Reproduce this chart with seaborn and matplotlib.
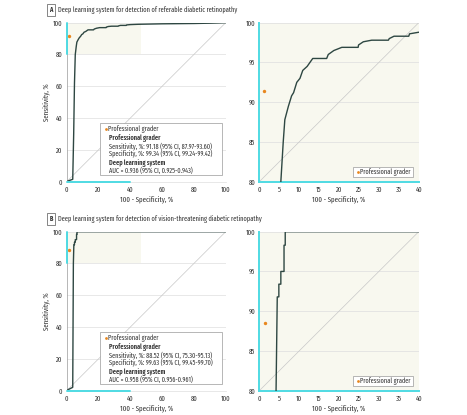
import matplotlib
matplotlib.use("Agg")
import matplotlib.pyplot as plt
import seaborn as sns
import pandas as pd
from matplotlib.patches import Rectangle

# ROC curve for referable DR (100 - specificity, sensitivity)
ref_fpr = [0, 1, 3.8, 4.4, 4.9, 5.4, 6.0, 6.4, 7.3, 8.1, 8.6, 9.4, 10.2, 10.9, 12.0,
           13.4, 16.9, 17.3, 18.7, 20.7, 24.8, 24.9, 26.1, 28.2, 32.4, 32.6, 33.8,
           37.5, 37.7, 40, 45, 50, 60, 70, 80, 90, 100]
ref_tpr = [0, 0.5, 1.5, 30, 62, 80, 85, 87.8, 89.5, 90.8, 91.2, 92.5, 93.0, 94.0, 94.5,
           95.5, 95.5, 96.0, 96.5, 96.9, 96.9, 97.2, 97.6, 97.8, 97.8, 98.0, 98.3,
           98.3, 98.6, 98.8, 99.0, 99.1, 99.3, 99.4, 99.5, 99.7, 100]

# ROC curve for vision-threatening DR
vt_fpr = [0, 1, 3.8, 4.2, 4.5, 4.9, 4.9, 5.4, 5.4, 6.2, 6.2, 6.5, 6.5, 40, 100]
vt_tpr = [0, 0.7, 2.1, 80, 91.8, 91.8, 93.4, 93.4, 95.0, 95.0, 98.3, 98.3, 100, 100, 100]

# professional grader operating points
grader_ref = (1.2, 91.4)
grader_vt = (1.4, 88.5)

titles = ["Deep learning system for detection of referable diabetic retinopathy",
          "Deep learning system for detection of vision-threatening diabetic retinopathy"]
letters = ["A", "B"]
sens_text = ["Sensitivity, %: 91.18 (95% CI, 87.97-93.60)",
             "Sensitivity, %: 88.52 (95% CI, 75.30-95.13)"]
spec_text = ["Specificity, %: 99.34 (95% CI, 99.24-99.42)",
             "Specificity, %: 99.63 (95% CI, 99.45-99.70)"]
auc_text = ["AUC = 0.936 (95% CI, 0.925-0.943)",
            "AUC = 0.958 (95% CI, 0.956-0.961)"]

sns.set_style("white")
plt.rcParams["font.family"] = ["Fira Sans Extra Condensed", "Fira Sans Condensed", "DejaVu Sans"]

LINE = "#2e4742"
ORANGE = "#e8871e"
CYAN = "#4fdbe3"
SHADE = "#f8f8ef"
GRID = "#dedede"
TXT = "#333333"
FS = 4.9

fig = plt.figure(figsize=(4.67, 4.15), dpi=100)

curves = [(ref_fpr, ref_tpr, grader_ref), (vt_fpr, vt_tpr, grader_vt)]
bottoms = [0.5622, 0.0586]
title_y = [1 - 10 / 415, 1 - 219 / 415]

for row in range(2):
    fpr, tpr, grader = curves[row]
    df = pd.DataFrame({"fpr": fpr, "tpr": tpr})
    gdf = pd.DataFrame({"fpr": [grader[0]], "tpr": [grader[1]]})

    fig.text(58 / 467, title_y[row], titles[row], fontsize=5.0, color=TXT,
             va="center", ha="left")
    fig.text(51 / 467, title_y[row], letters[row], fontsize=4.8, color=TXT,
             va="center", ha="center", fontweight="bold",
             bbox=dict(boxstyle="square,pad=0.3", fc="white", ec="#555555", lw=0.5))

    # full ROC
    ax = fig.add_axes([0.1428, bottoms[row], 0.3405, 0.3831])
    ax.add_patch(Rectangle((0, 80), 47, 20, facecolor=SHADE, edgecolor="none", zorder=0))
    for yv in [20, 40, 60, 80, 100]:
        ax.axhline(yv, color=GRID, lw=0.5, zorder=0.5)
    ax.plot([0, 1], [0, 1], transform=ax.transAxes, color="#c8c8c8", lw=0.5, zorder=1)
    sns.lineplot(data=df, x="fpr", y="tpr", sort=False, estimator=None, color=LINE,
                 lw=1.0, ax=ax, zorder=3)
    sns.scatterplot(data=gdf, x="fpr", y="tpr", color=ORANGE, s=6, linewidth=0,
                    ax=ax, zorder=4)
    ax.set_xlim(0, 100)
    ax.set_ylim(0, 100)
    ax.set_xticks(range(0, 101, 20))
    ax.set_yticks(range(0, 101, 20))
    ax.set_xlabel("100 - Specificity, %", fontsize=5.4, color=TXT, labelpad=2)
    ax.set_ylabel("Sensitivity, %", fontsize=5.4, color=TXT, labelpad=2)
    for s in ["top", "right"]:
        ax.spines[s].set_visible(False)
    ax.spines["left"].set_color("#9a9a9a")
    ax.spines["bottom"].set_color(GRID)
    for s in ["left", "bottom"]:
        ax.spines[s].set_linewidth(0.5)
    ax.plot([0, 0], [80, 100], color=CYAN, lw=1.4, clip_on=False, zorder=5)
    ax.plot([0, 40], [0, 0], color=CYAN, lw=1.4, clip_on=False, zorder=5)
    ax.tick_params(labelsize=5.2, colors=TXT, length=1.5, width=0.4, pad=1.5)

    # legend box
    ax.add_patch(Rectangle((0.21, 0.042), 0.765, 0.325, transform=ax.transAxes,
                           facecolor="white", edgecolor="#9a9a9a", lw=0.5, zorder=6))
    ax.scatter([0.247], [0.329], transform=ax.transAxes, color=ORANGE, s=4,
               linewidths=0, zorder=7)
    ax.text(0.258, 0.329, "Professional grader", transform=ax.transAxes,
            fontsize=FS, color=TXT, va="center", zorder=7)
    ax.text(0.268, 0.273, "Professional grader", transform=ax.transAxes,
            fontsize=FS, color=TXT, va="center", fontweight="semibold", zorder=7)
    ax.text(0.268, 0.224, sens_text[row], transform=ax.transAxes,
            fontsize=FS, color=TXT, va="center", zorder=7)
    ax.text(0.268, 0.178, spec_text[row], transform=ax.transAxes,
            fontsize=FS, color=TXT, va="center", zorder=7)
    ax.text(0.268, 0.115, "Deep learning system", transform=ax.transAxes,
            fontsize=FS, color=TXT, va="center", fontweight="semibold", zorder=7)
    ax.text(0.268, 0.069, auc_text[row], transform=ax.transAxes,
            fontsize=FS, color=TXT, va="center", zorder=7)

    # zoomed ROC
    az = fig.add_axes([0.5553, bottoms[row], 0.3413, 0.3831])
    az.set_facecolor(SHADE)
    for yv in [85, 90, 95, 100]:
        az.axhline(yv, color=GRID, lw=0.5, zorder=0.5)
    az.plot([0, 1], [0, 1], transform=az.transAxes, color="#c8c8c8", lw=0.5, zorder=1)
    sns.lineplot(data=df, x="fpr", y="tpr", sort=False, estimator=None, color=LINE,
                 lw=1.0, ax=az, zorder=3)
    sns.scatterplot(data=gdf, x="fpr", y="tpr", color=ORANGE, s=6, linewidth=0,
                    ax=az, zorder=4)
    az.set_xlim(0, 40)
    az.set_ylim(80, 100)
    az.set_xticks(range(0, 41, 5))
    az.set_yticks(range(80, 101, 5))
    az.set_xlabel("100 - Specificity, %", fontsize=5.4, color=TXT, labelpad=2)
    az.set_ylabel("")
    for s in ["top", "right"]:
        az.spines[s].set_visible(False)
    for s in ["left", "bottom"]:
        az.spines[s].set_color(CYAN)
        az.spines[s].set_linewidth(1.4)
    az.tick_params(labelsize=5.2, colors=TXT, length=1.5, width=0.4, pad=1.5)

    az.add_patch(Rectangle((0.588, 0.03), 0.377, 0.062, transform=az.transAxes,
                           facecolor="white", edgecolor="#9a9a9a", lw=0.5, zorder=6))
    az.scatter([0.62], [0.061], transform=az.transAxes, color=ORANGE, s=4,
               linewidths=0, zorder=7)
    az.text(0.634, 0.061, "Professional grader", transform=az.transAxes,
            fontsize=FS, color=TXT, va="center", zorder=7)

fig.savefig("out.png", dpi=100)
